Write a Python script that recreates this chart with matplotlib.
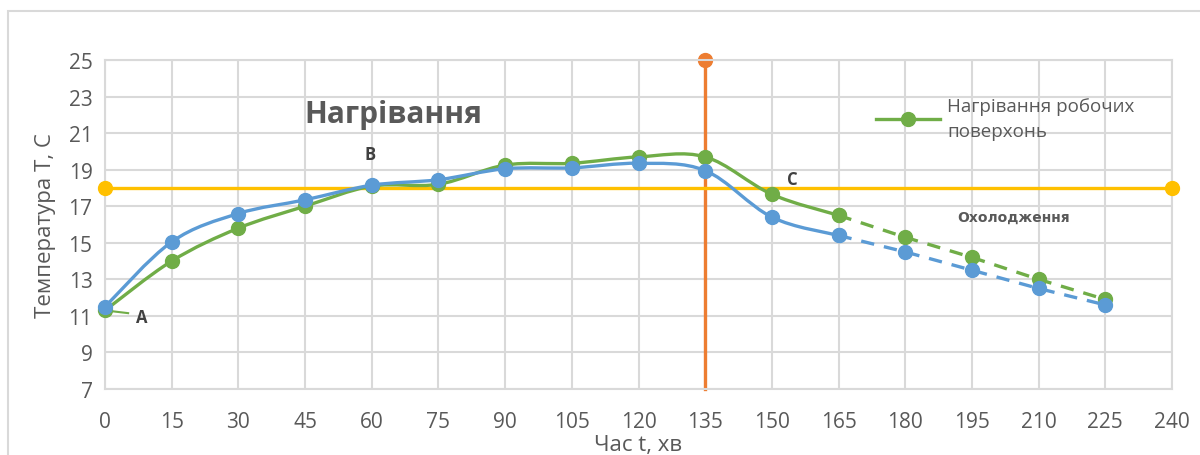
"""Heating / cooling curves of working surfaces (recreated chart)."""

import matplotlib

matplotlib.use("Agg")

import matplotlib.pyplot as plt
from matplotlib.lines import Line2D
from matplotlib.patches import PathPatch, Rectangle
from matplotlib.path import Path
import numpy as np

# measured points, heating + start of cooling (solid, smoothed)
TIME_SOLID = [0, 15, 30, 45, 60, 75, 90, 105, 120, 135, 150, 165]
GREEN_SOLID = [11.3, 14.0, 15.8, 17.0, 18.1, 18.2, 19.25, 19.35, 19.7, 19.7, 17.65, 16.5]
BLUE_SOLID = [11.5, 15.05, 16.6, 17.35, 18.15, 18.45, 19.05, 19.1, 19.35, 18.95, 16.4, 15.4]

# forecast part of cooling (dashed)
TIME_DASH = [165, 180, 195, 210, 225]
GREEN_DASH = [16.5, 15.3, 14.2, 13.0, 11.9]
BLUE_DASH = [15.4, 14.5, 13.5, 12.5, 11.6]

COMFORT_T = 18
COMFORT_SPAN = [0, 240]
SWITCH_TIME = 135
SWITCH_SPAN = [7, 25]

X_TICKS = list(range(0, 241, 15))
Y_TICKS = list(range(7, 26, 2))

GREEN = "#70AD47"
BLUE = "#5B9BD5"
ORANGE = "#ED7D31"
YELLOW = "#FFC000"
TEXT = "#595959"
GRID = "#D9D9D9"

plt.rcParams["font.family"] = ["Open Sans", "DejaVu Sans"]


def smooth_path(xs, ys):
    """Catmull-Rom curve through the points, as cubic Bezier segments."""
    pts = np.column_stack([xs, ys]).astype(float)
    verts = [pts[0]]
    codes = [Path.MOVETO]
    n = len(pts)
    for i in range(n - 1):
        p0 = pts[i - 1] if i > 0 else pts[i]
        p1 = pts[i]
        p2 = pts[i + 1]
        p3 = pts[i + 2] if i + 2 < n else pts[i + 1]
        c1 = p1 + (p2 - p0) / 6.0
        c2 = p2 - (p3 - p1) / 6.0
        verts += [c1, c2, p2]
        codes += [Path.CURVE4] * 3
    return Path(verts, codes)


def draw_series(ax, xs, ys, xd, yd, color, z):
    ax.add_patch(PathPatch(smooth_path(xs, ys), facecolor="none", edgecolor=color,
                           linewidth=2.4, capstyle="round", zorder=z))
    ax.plot(xs, ys, linestyle="none", marker="o", markersize=10,
            color=color, zorder=z + 0.5, clip_on=False)
    ax.plot(xd, yd, linestyle=(0, (4, 3)), linewidth=2.4, marker="o",
            markersize=10, color=color, zorder=z, clip_on=False)


fig = plt.figure(figsize=(12, 4.56), dpi=100, facecolor="white")
fig.patches.append(Rectangle((8 / 1200, -0.2), 1.2, 1.2 - 12 / 456,
                             transform=fig.transFigure, facecolor="none",
                             edgecolor=GRID, linewidth=1.5))
ax = fig.add_axes([105 / 1200, 1 - 390 / 456, 1067 / 1200, 329 / 456])

# reference lines
ax.plot([SWITCH_TIME, SWITCH_TIME], SWITCH_SPAN, color=ORANGE, linewidth=2.4, zorder=2,
        clip_on=False)
ax.plot([SWITCH_TIME], [SWITCH_SPAN[1]], marker="o", markersize=10, color=ORANGE,
        zorder=2, clip_on=False)
ax.plot(COMFORT_SPAN, [COMFORT_T, COMFORT_T], color=YELLOW, linewidth=2.4,
        marker="o", markersize=10, zorder=3, clip_on=False)

draw_series(ax, TIME_SOLID, GREEN_SOLID, TIME_DASH, GREEN_DASH, GREEN, 4)
draw_series(ax, TIME_SOLID, BLUE_SOLID, TIME_DASH, BLUE_DASH, BLUE, 6)

# point labels
ax.plot([0, 5.2], [GREEN_SOLID[0], 11.15], color=GREEN, linewidth=1.5, zorder=3)
ax.text(8.3, 10.95, "A", ha="center", va="center", fontsize=12, fontweight="bold",
        color="#404040")
ax.text(59.6, 19.86, "B", ha="center", va="center", fontsize=12, fontweight="bold",
        color="#404040")
ax.text(154.5, 18.5, "C", ha="center", va="center", fontsize=12, fontweight="bold",
        color="#404040")
ax.text(64.8, 22.05, "Нагрівання", ha="center", va="center", fontsize=21.5,
        fontweight="bold", color=TEXT)
ax.text(204.4, 16.4, "Охолодження", ha="center", va="center", fontsize=10,
        fontweight="bold", color=TEXT, family="DejaVu Sans")

handle = Line2D([], [], color=GREEN, linewidth=2.4, marker="o", markersize=10)
leg = ax.legend([handle], ["Нагрівання робочих\nповерхонь"], loc="upper left",
                bbox_to_anchor=(0.707, 0.94), frameon=False, handlelength=3.4,
                handletextpad=0.4, fontsize=13.5, labelcolor=TEXT)
for t in leg.get_texts():
    t.set_linespacing(1.55)

ax.set_xlim(0, 240)
ax.set_ylim(7, 25)
ax.set_xticks(X_TICKS)
ax.set_yticks(Y_TICKS)
ax.grid(True, color=GRID, linewidth=1.5)
ax.set_axisbelow(True)
for s in ax.spines.values():
    s.set_color(GRID)
    s.set_linewidth(1.5)
ax.tick_params(length=0, labelsize=15, labelcolor=TEXT)
ax.tick_params(axis="x", pad=16)
ax.tick_params(axis="y", pad=9)
ax.set_xlabel("Час t, хв", fontsize=16, color=TEXT, labelpad=1)
ax.set_ylabel("Температура Т, С", fontsize=16, color=TEXT, labelpad=9)

fig.savefig("out.png", dpi=100, facecolor="white")
